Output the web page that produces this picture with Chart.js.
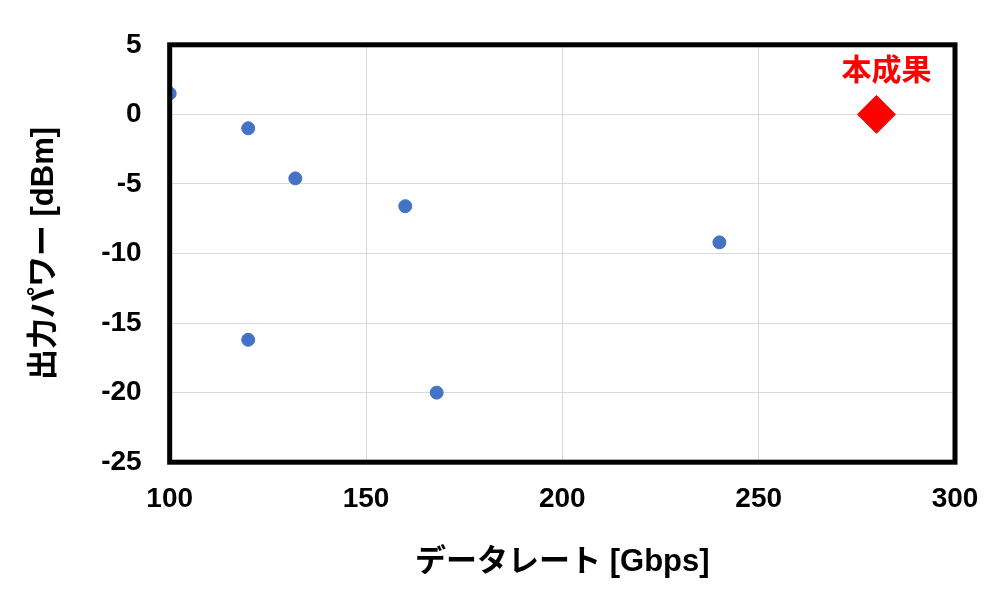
<!DOCTYPE html>
<html>
<head>
<meta charset="utf-8">
<script src="https://cdn.jsdelivr.net/npm/chart.js@4"></script>
<style>
  html, body { margin: 0; padding: 0; background: #fff; }
  #wrap { width: 1000px; height: 591px; }
</style>
</head>
<body>
<div id="wrap"><canvas id="chart"></canvas></div>
<script>
// 既存の報告値
const priorRates = [100, 120, 132, 160, 240, 120, 168];
const priorPowers = [1.5, -1.0, -4.6, -6.6, -9.2, -16.2, -20.0];
// 本成果
const ourRate = [280];
const ourPower = [0];
const ourLabel = '本成果';

const FONT = '"Liberation Sans", Arial, "Noto Sans CJK JP", sans-serif';

// 本成果のラベルを菱形の上に描く
const labelPlugin = {
    id: 'ourLabel',
    afterDatasetsDraw(chart) {
        const pt = chart.getDatasetMeta(1).data[0];
        const ctx = chart.ctx;
        ctx.save();
        ctx.fillStyle = '#ff0000';
        ctx.font = 'bold 30px ' + FONT;
        ctx.textAlign = 'center';
        ctx.textBaseline = 'bottom';
        ctx.fillText(ourLabel, pt.x + 10, pt.y - 28);
        ctx.restore();
    }
};

// 枠線を太く描く
const borderPlugin = {
    id: 'thickBorder',
    afterDraw(chart) {
        const a = chart.chartArea;
        const ctx = chart.ctx;
        ctx.save();
        ctx.strokeStyle = '#000';
        ctx.lineWidth = 5;
        ctx.strokeRect(a.left, a.top, a.right - a.left, a.bottom - a.top);
        ctx.restore();
    }
};

new Chart(document.getElementById('chart'), {
    type: 'scatter',
    data: {
        datasets: [{
            data: priorRates.map((x, i) => ({ x: x, y: priorPowers[i] })),
            backgroundColor: '#4472c4',
            borderColor: '#4472c4',
            pointRadius: 6.5
        }, {
            data: ourRate.map((x, i) => ({ x: x, y: ourPower[i] })),
            backgroundColor: '#ff0000',
            borderColor: '#ff0000',
            pointStyle: 'rectRot',
            pointRadius: 19
        }]
    },
    options: {
        responsive: true,
        maintainAspectRatio: false,
        animation: false,
        layout: { padding: { top: 20, right: 45, bottom: 6, left: 22 } },
        scales: {
            x: {
                min: 100, max: 300,
                ticks: { stepSize: 50, color: '#000', font: { family: FONT, size: 28, weight: 'bold' }, padding: 20 },
                grid: { color: '#d9d9d9', drawTicks: false },
                border: { display: false },
                title: { display: true, text: 'データレート [Gbps]', color: '#000', font: { family: FONT, size: 31, weight: 'bold' }, padding: { top: 8 } }
            },
            y: {
                min: -25, max: 5,
                ticks: { stepSize: 5, color: '#000', font: { family: FONT, size: 28, weight: 'bold' }, padding: 28 },
                grid: { color: '#d9d9d9', drawTicks: false },
                border: { display: false },
                title: { display: true, text: '出力パワー [dBm]', color: '#000', font: { family: FONT, size: 31, weight: 'bold' }, padding: { bottom: 10 } }
            }
        },
        plugins: {
            legend: { display: false },
            tooltip: { enabled: false }
        }
    },
    plugins: [labelPlugin, borderPlugin]
});
</script>
</body>
</html>
